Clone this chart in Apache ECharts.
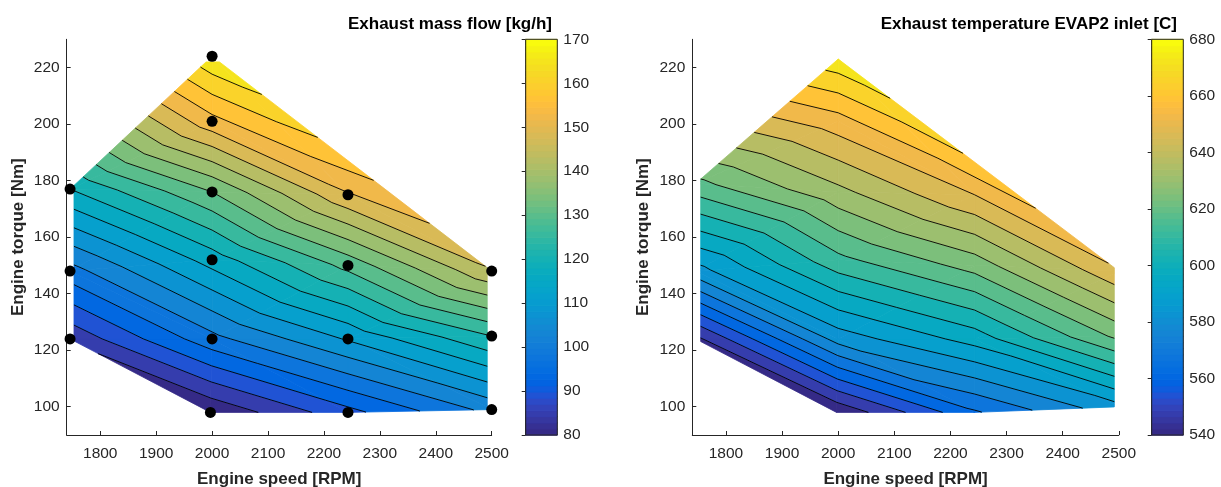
<!DOCTYPE html>
<html><head><meta charset="utf-8">
<script src="https://cdn.jsdelivr.net/npm/echarts@6/dist/echarts.min.js"></script>
<style>html,body{margin:0;padding:0;background:#fff}#c{width:1221px;height:487px}</style>
</head><body><div id="c"></div>
<script>
// ---------------- data ----------------
// measured operating points (index: A B C | D E F G H I | J K L M | N O P)
const speed       = [1746,1746,1746, 1997,2000,2000,2000,2000,2000, 2243,2243,2243,2243, 2500,2500,2500];
const torqueFlow  = [124,148,177, 98,124,152,176,201,224, 98,124,150,175, 99,125,148];
const massFlow    = [85.5,100.6,120.5, 80.5,101,118,134,155,169.5, 92,112,131,151.5, 104,125,147];
const torqueTemp  = [124,148,179, 98,124,152,176,201,223, 98,124,150,175, 100,125,148];
const exhaustTemp = [545,586,622, 541,585,615,636,656,678, 567,599,627,652, 587,626,651];
// triangulation of the operating points (vertex indices)
const triangles = [[0,3,4],[0,4,1],[1,4,5],[1,5,6],[1,6,2],[2,6,7],[2,7,8],
  [3,9,4],[4,9,10],[4,10,11],[4,11,5],[5,11,12],[5,12,6],[6,12,7],[7,12,8],
  [9,13,10],[10,13,14],[10,14,15],[10,15,11],[11,15,12],[12,15,8]];
const speedTicks  = [1800,1900,2000,2100,2200,2300,2400,2500];
const torqueTicks = [100,120,140,160,180,200,220];
const flowRange = [80,170];
const tempRange = [540,680];
const nLevels = 20;
// interpolation grid extent (speed, torque)
const gridExtentFlow = {x:[1753,2492], y:[90,222]};
const gridExtentTemp = {x:[1755,2492], y:[90,223.5]};
const titles = ['Exhaust mass flow [kg/h]','Exhaust temperature EVAP2 inlet [C]'];

// ---------------- colormap (parula, 64) ----------------
const parula = [[0.2081,0.1663,0.5292],[0.2116,0.1898,0.5777],[0.2123,0.2138,0.6270],[0.2081,0.2386,0.6771],[0.1959,0.2645,0.7279],[0.1707,0.2919,0.7792],[0.1253,0.3242,0.8303],[0.0591,0.3598,0.8683],[0.0117,0.3875,0.8820],[0.0060,0.4086,0.8828],[0.0165,0.4266,0.8786],[0.0329,0.4430,0.8720],[0.0498,0.4586,0.8641],[0.0629,0.4737,0.8554],[0.0723,0.4887,0.8467],[0.0779,0.5040,0.8384],[0.0793,0.5200,0.8312],[0.0749,0.5375,0.8263],[0.0641,0.5570,0.8240],[0.0488,0.5772,0.8228],[0.0343,0.5966,0.8199],[0.0265,0.6137,0.8135],[0.0239,0.6287,0.8038],[0.0231,0.6418,0.7913],[0.0228,0.6535,0.7768],[0.0267,0.6642,0.7607],[0.0384,0.6743,0.7436],[0.0590,0.6838,0.7254],[0.0843,0.6928,0.7062],[0.1133,0.7015,0.6859],[0.1453,0.7098,0.6646],[0.1801,0.7177,0.6424],[0.2178,0.7250,0.6193],[0.2586,0.7317,0.5954],[0.3022,0.7376,0.5712],[0.3482,0.7424,0.5473],[0.3953,0.7459,0.5244],[0.4420,0.7481,0.5033],[0.4871,0.7491,0.4840],[0.5300,0.7491,0.4661],[0.5709,0.7485,0.4494],[0.6099,0.7473,0.4337],[0.6473,0.7456,0.4188],[0.6834,0.7435,0.4044],[0.7184,0.7411,0.3905],[0.7525,0.7384,0.3768],[0.7858,0.7356,0.3633],[0.8185,0.7327,0.3498],[0.8507,0.7299,0.3360],[0.8824,0.7274,0.3217],[0.9139,0.7258,0.3063],[0.9450,0.7261,0.2886],[0.9739,0.7314,0.2666],[0.9938,0.7455,0.2403],[0.9990,0.7653,0.2164],[0.9955,0.7861,0.1967],[0.9880,0.8066,0.1794],[0.9789,0.8271,0.1633],[0.9697,0.8481,0.1475],[0.9626,0.8705,0.1309],[0.9589,0.8949,0.1132],[0.9598,0.9218,0.0948],[0.9661,0.9514,0.0755],[0.9763,0.9831,0.0538]];
const cmap = parula.map(c => 'rgb(' + c.map(v => Math.round(v*255)).join(',') + ')');
function colorFor(v, range){
  let i = Math.floor((v - range[0]) / (range[1] - range[0]) * 64);
  i = Math.max(0, Math.min(63, i));
  return cmap[i];
}

// ---------------- geometry helpers ----------------
function clipPoly(poly, f){
  const out = [];
  const n = poly.length;
  for (let i = 0; i < n; i++){
    const a = poly[i], b = poly[(i+1)%n];
    const fa = f(a), fb = f(b);
    if (fa >= 0) out.push(a);
    if ((fa >= 0) !== (fb >= 0)){
      const t = fa / (fa - fb);
      out.push([a[0]+(b[0]-a[0])*t, a[1]+(b[1]-a[1])*t, a[2]+(b[2]-a[2])*t]);
    }
  }
  return out;
}
function triPoly(tri, xs, ys, vs, ext){
  let p = tri.map(i => [xs[i], ys[i], vs[i]]);
  p = clipPoly(p, q => q[0] - ext.x[0]);
  p = clipPoly(p, q => ext.x[1] - q[0]);
  p = clipPoly(p, q => q[1] - ext.y[0]);
  p = clipPoly(p, q => ext.y[1] - q[1]);
  return p;
}
function levelsOf(range){
  const L = [];
  for (let k = 0; k <= nLevels; k++) L.push(range[0] + k*(range[1]-range[0])/nLevels);
  return L;
}

function makeFill(xs, ys, vs, range, ext){
  const L = levelsOf(range);
  return function(params, api){
    const tri = triangles[api.value(2)];
    const base = triPoly(tri, xs, ys, vs, ext);
    const children = [];
    if (base.length < 3) return {type:'group', children};
    for (let k = 0; k < nLevels; k++){
      const lo = k === 0 ? -Infinity : L[k];
      const hi = k === nLevels-1 ? Infinity : L[k+1];
      let p = base;
      if (lo > -Infinity) p = clipPoly(p, q => q[2] - lo);
      if (p.length >= 3 && hi < Infinity) p = clipPoly(p, q => hi - q[2]);
      if (p.length < 3) continue;
      const col = colorFor(L[k], range);
      children.push({type:'polygon', silent:true,
        shape:{points: p.map(q => api.coord([q[0], q[1]]))},
        style:{fill: col, stroke: col, lineWidth: 0.8}});
    }
    return {type:'group', children};
  };
}
function makeLines(xs, ys, vs, range, ext){
  const L = levelsOf(range);
  return function(params, api){
    const tri = triangles[api.value(2)];
    const base = triPoly(tri, xs, ys, vs, ext);
    const children = [];
    if (base.length < 3) return {type:'group', children};
    for (let k = 1; k < nLevels; k++){
      const l = L[k];
      const pts = [];
      for (let i = 0; i < base.length; i++){
        const a = base[i], b = base[(i+1)%base.length];
        if ((a[2] >= l) !== (b[2] >= l)){
          const t = (l - a[2]) / (b[2] - a[2]);
          pts.push(api.coord([a[0]+(b[0]-a[0])*t, a[1]+(b[1]-a[1])*t]));
        }
      }
      if (pts.length >= 2){
        children.push({type:'polyline', silent:true, shape:{points: pts.slice(0,2)},
          style:{stroke:'#000', lineWidth:0.9, fill:null}});
      }
    }
    return {type:'group', children};
  };
}
function colorbarItem(range){
  const step = (range[1]-range[0]) / 64;
  return function(params, api){
    const i = api.value(2);
    const lo = range[0] + i*step, hi = lo + step;
    const p0 = api.coord([0, hi]), p1 = api.coord([1, lo]);
    return {type:'rect', silent:true,
      shape:{x:p0[0], y:p0[1], width:p1[0]-p0[0], height:p1[1]-p0[1]+0.5},
      style:{fill: cmap[i], stroke: cmap[i], lineWidth: 0.5}};
  };
}

// ---------------- chart ----------------
const FONT = '"Liberation Sans", Arial, Helvetica, sans-serif';
const TXT = '#262626';
const chart = echarts.init(document.getElementById('c'), null, {renderer:'canvas'});
const plain = v => String(v);

function mainX(idx){
  return {gridIndex: idx, type:'value', min:1740, max:2500,
    name:'Engine speed [RPM]', nameLocation:'middle', nameGap:36,
    nameTextStyle:{fontFamily:FONT, fontWeight:'bold', fontSize:17, color:TXT},
    axisLine:{show:true, lineStyle:{color:TXT, width:1}},
    axisTick:{show:true, inside:true, length:4, customValues: speedTicks, lineStyle:{color:TXT}},
    axisLabel:{customValues: speedTicks, formatter: plain, fontFamily:FONT, fontSize:15.5, color:TXT, margin:11},
    splitLine:{show:false}};
}
function mainY(idx){
  return {gridIndex: idx, type:'value', min:90, max:230,
    name:'Engine torque [Nm]', nameLocation:'middle', nameGap:40,
    nameTextStyle:{fontFamily:FONT, fontWeight:'bold', fontSize:17, color:TXT},
    axisLine:{show:true, lineStyle:{color:TXT, width:1}},
    axisTick:{show:true, inside:true, length:4, customValues: torqueTicks, lineStyle:{color:TXT}},
    axisLabel:{customValues: torqueTicks, formatter: plain, fontFamily:FONT, fontSize:15.5, color:TXT, margin:7},
    splitLine:{show:false}};
}
function cbX(idx){
  return {gridIndex: idx, type:'value', min:0, max:1, show:false};
}
function cbY(idx, range, interval){
  return {gridIndex: idx, type:'value', min:range[0], max:range[1], interval: interval, position:'right',
    axisLine:{show:true, lineStyle:{color:TXT, width:1}},
    axisTick:{show:true, inside:true, length:4, lineStyle:{color:TXT}},
    axisLabel:{formatter: plain, fontFamily:FONT, fontSize:15.5, color:TXT, margin:6},
    splitLine:{show:false}};
}

const triData = triangles.map((t,i) => [2100, 150, i]);
const cbData = Array.from({length:64}, (_,i) => [0.5, 0, i]);

chart.setOption({
  animation:false,
  backgroundColor:'#fff',
  grid:[
    {left:66.7, top:39.3, width:425, height:395.7, outerBoundsMode:'none', containLabel:false},
    {left:692.3, top:39.3, width:426.5, height:395.7, outerBoundsMode:'none', containLabel:false},
    {left:525.7, top:39.3, width:31.6, height:395.7, outerBoundsMode:'none', containLabel:false, show:true, borderColor:TXT, borderWidth:1, z:5},
    {left:1151.7, top:39.3, width:31.6, height:395.7, outerBoundsMode:'none', containLabel:false, show:true, borderColor:TXT, borderWidth:1, z:5}
  ],
  xAxis:[mainX(0), mainX(1), cbX(2), cbX(3)],
  yAxis:[mainY(0), mainY(1), cbY(2, flowRange, 10), cbY(3, tempRange, 20)],
  graphic:[
    {type:'text', x:552, y:24, silent:true, style:{text:titles[0], textAlign:'right', textVerticalAlign:'middle',
      font:'bold 17px ' + FONT, fill:'#000'}},
    {type:'text', x:1177, y:24, silent:true, style:{text:titles[1], textAlign:'right', textVerticalAlign:'middle',
      font:'bold 17px ' + FONT, fill:'#000'}}
  ],
  series:[
    {type:'custom', xAxisIndex:0, yAxisIndex:0, z:1, silent:true, clip:false, data:triData,
      renderItem: makeFill(speed, torqueFlow, massFlow, flowRange, gridExtentFlow)},
    {type:'custom', xAxisIndex:0, yAxisIndex:0, z:2, silent:true, clip:false, data:triData,
      renderItem: makeLines(speed, torqueFlow, massFlow, flowRange, gridExtentFlow)},
    {type:'scatter', xAxisIndex:0, yAxisIndex:0, z:4, silent:true, symbolSize:11,
      itemStyle:{color:'#000', opacity:1}, data: speed.map((s,i) => [s, torqueFlow[i]])},
    {type:'custom', xAxisIndex:1, yAxisIndex:1, z:1, silent:true, clip:false, data:triData,
      renderItem: makeFill(speed, torqueTemp, exhaustTemp, tempRange, gridExtentTemp)},
    {type:'custom', xAxisIndex:1, yAxisIndex:1, z:2, silent:true, clip:false, data:triData,
      renderItem: makeLines(speed, torqueTemp, exhaustTemp, tempRange, gridExtentTemp)},
    {type:'custom', xAxisIndex:2, yAxisIndex:2, z:1, silent:true, data:cbData,
      renderItem: colorbarItem(flowRange)},
    {type:'custom', xAxisIndex:3, yAxisIndex:3, z:1, silent:true, data:cbData,
      renderItem: colorbarItem(tempRange)}
  ]
});
</script>
</body></html>
